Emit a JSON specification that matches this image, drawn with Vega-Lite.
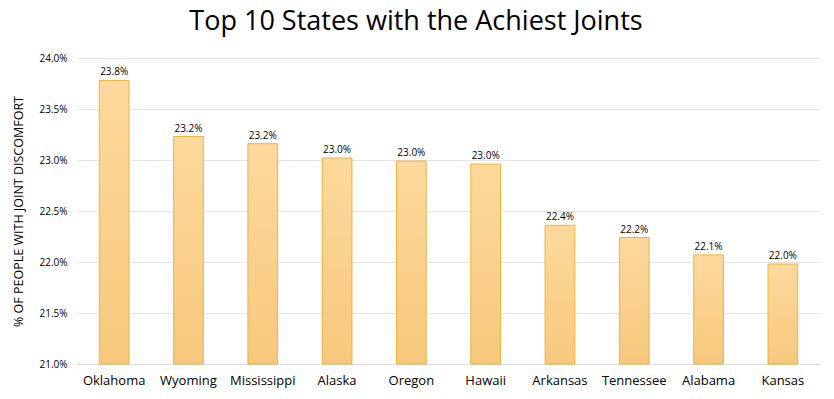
{
  "$schema": "https://vega.github.io/schema/vega-lite/v6.json",
  "width": 743,
  "height": 306,
  "autosize": {"type": "none"},
  "padding": {"left": 77, "top": 58, "right": 14, "bottom": 35},
  "background": "white",
  "title": {
    "text": "Top 10 States with the Achiest Joints",
    "font": "Open Sans",
    "fontSize": 27,
    "fontWeight": "normal",
    "color": "#000000",
    "anchor": "middle",
    "frame": "bounds",
    "offset": 17
  },
  "config": {
    "view": {"stroke": null},
    "font": "Open Sans"
  },
  "data": {
    "values": [
      {"state": "Oklahoma", "pct": 0.2378},
      {"state": "Wyoming", "pct": 0.2323},
      {"state": "Mississippi", "pct": 0.2316},
      {"state": "Alaska", "pct": 0.2302},
      {"state": "Oregon", "pct": 0.2299},
      {"state": "Hawaii", "pct": 0.2296},
      {"state": "Arkansas", "pct": 0.2236},
      {"state": "Tennessee", "pct": 0.2224},
      {"state": "Alabama", "pct": 0.2207},
      {"state": "Kansas", "pct": 0.2198}
    ]
  },
  "encoding": {
    "x": {
      "field": "state",
      "type": "nominal",
      "sort": null,
      "scale": {"paddingInner": 0.6, "paddingOuter": 0.3},
      "axis": {
        "title": null,
        "labelAngle": 0,
        "labelFontSize": 13,
        "labelColor": "#000000",
        "labelPadding": 10,
        "ticks": false,
        "domainColor": "#D9D9D9",
        "grid": false
      }
    },
    "y": {
      "field": "pct",
      "type": "quantitative",
      "scale": {"domain": [0.21, 0.24], "zero": false, "nice": false},
      "axis": {
        "title": "% OF PEOPLE WITH JOINT DISCOMFORT",
        "titleFontSize": 12.5,
        "titleFontWeight": "normal",
        "titleColor": "#000000",
        "titleX": -59,
        "titleY": 153,
        "titleAngle": -90,
        "titleAlign": "center",
        "titleBaseline": "middle",
        "values": [0.21, 0.215, 0.22, 0.225, 0.23, 0.235, 0.24],
        "format": ".1%",
        "labelFontSize": 10,
        "labelColor": "#000000",
        "labelPadding": 10,
        "ticks": false,
        "domain": false,
        "gridColor": "#E4E4E4",
        "gridWidth": 1
      }
    }
  },
  "layer": [
    {
      "mark": {
        "type": "bar",
        "stroke": "#EDB33C",
        "strokeWidth": 1,
        "color": {
          "gradient": "linear",
          "x1": 0, "y1": 0, "x2": 0, "y2": 1,
          "stops": [
            {"offset": 0, "color": "#FDD99D"},
            {"offset": 1, "color": "#F6C87D"}
          ]
        }
      },
      "encoding": {
        "y2": {"datum": 0.21}
      }
    },
    {
      "mark": {"type": "text", "dy": -8, "fontSize": 10, "color": "#000000"},
      "encoding": {
        "text": {"field": "pct", "type": "quantitative", "format": ".1%"}
      }
    }
  ]
}
